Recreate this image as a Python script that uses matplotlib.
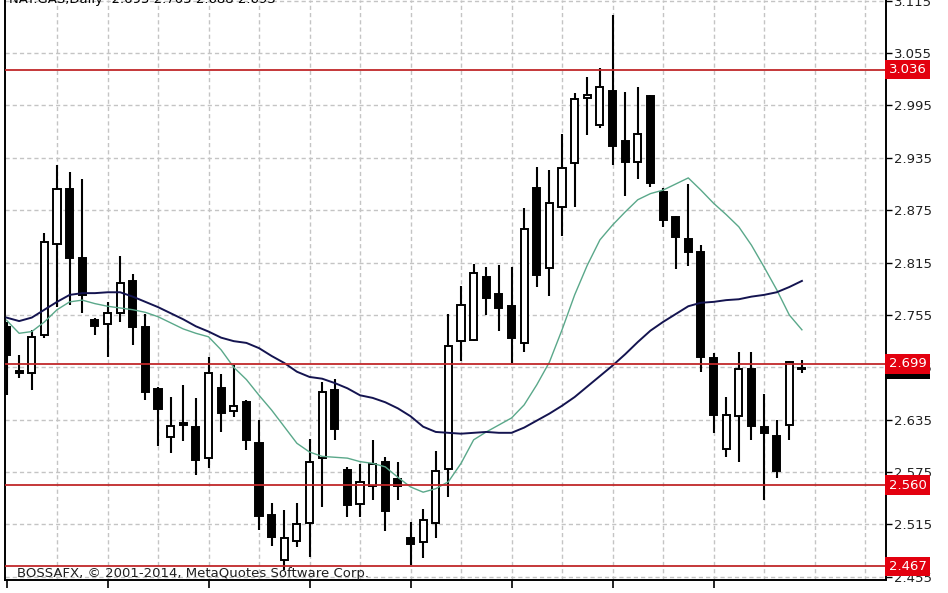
import matplotlib
matplotlib.use("Agg")
import matplotlib.pyplot as plt
import matplotlib.transforms as mtransforms
import numpy as np

# ---------------- data ----------------
opens = [2.741, 2.691, 2.689, 2.732, 2.836, 2.899, 2.820, 2.749, 2.745, 2.757,
         2.794, 2.741, 2.670, 2.615, 2.631, 2.627, 2.591, 2.671, 2.645, 2.655,
         2.608, 2.526, 2.474, 2.496, 2.517, 2.591, 2.669, 2.577, 2.539, 2.559,
         2.586, 2.567, 2.500, 2.495, 2.517, 2.579, 2.725, 2.726, 2.799, 2.779,
         2.765, 2.723, 2.900, 2.809, 2.879, 2.929, 3.004, 2.973, 3.012, 2.954,
         2.930, 3.006, 2.896, 2.867, 2.842, 2.827, 2.706, 2.602, 2.639, 2.693,
         2.627, 2.616, 2.629, 2.693]
highs = [2.747, 2.709, 2.738, 2.849, 2.927, 2.919, 2.911, 2.752, 2.770, 2.823,
         2.802, 2.756, 2.673, 2.661, 2.675, 2.660, 2.707, 2.687, 2.698, 2.658,
         2.635, 2.540, 2.532, 2.540, 2.613, 2.678, 2.682, 2.581, 2.584, 2.612,
         2.592, 2.586, 2.518, 2.533, 2.599, 2.756, 2.788, 2.813, 2.810, 2.812,
         2.810, 2.878, 2.924, 2.921, 2.962, 3.009, 3.028, 3.038, 3.099, 3.010,
         3.016, 3.007, 2.900, 2.868, 2.905, 2.835, 2.711, 2.661, 2.713, 2.713,
         2.665, 2.635, 2.702, 2.703]
lows = [2.663, 2.683, 2.669, 2.729, 2.764, 2.766, 2.757, 2.732, 2.707, 2.747,
        2.721, 2.658, 2.605, 2.597, 2.611, 2.572, 2.580, 2.621, 2.638, 2.600,
        2.509, 2.490, 2.463, 2.489, 2.478, 2.535, 2.612, 2.524, 2.523, 2.543,
        2.507, 2.543, 2.469, 2.477, 2.500, 2.547, 2.702, 2.725, 2.755, 2.737,
        2.700, 2.713, 2.787, 2.777, 2.845, 2.879, 2.961, 2.969, 2.927, 2.891,
        2.911, 2.902, 2.856, 2.808, 2.811, 2.690, 2.620, 2.592, 2.587, 2.612,
        2.543, 2.568, 2.612, 2.688]
closes = [2.709, 2.689, 2.730, 2.839, 2.899, 2.820, 2.778, 2.742, 2.757, 2.792,
          2.741, 2.667, 2.647, 2.628, 2.629, 2.589, 2.689, 2.643, 2.651, 2.612,
          2.525, 2.501, 2.500, 2.516, 2.586, 2.667, 2.624, 2.537, 2.564, 2.584,
          2.531, 2.559, 2.493, 2.520, 2.576, 2.719, 2.766, 2.803, 2.774, 2.763,
          2.729, 2.853, 2.801, 2.883, 2.923, 3.002, 3.007, 3.016, 2.949, 2.930,
          2.962, 2.906, 2.864, 2.844, 2.827, 2.707, 2.640, 2.640, 2.693, 2.628,
          2.620, 2.576, 2.701, 2.693]

ma_fast = [2.749, 2.734, 2.736, 2.747, 2.761, 2.770, 2.772, 2.768, 2.765, 2.763,
           2.761, 2.758, 2.753, 2.746, 2.739, 2.734, 2.730, 2.715, 2.695, 2.681,
           2.663, 2.646, 2.627, 2.608, 2.598, 2.593, 2.592, 2.591, 2.587, 2.585,
           2.581, 2.569, 2.558, 2.552, 2.556, 2.564, 2.585, 2.612, 2.621, 2.629,
           2.637, 2.652, 2.675, 2.701, 2.738, 2.778, 2.812, 2.841, 2.858, 2.873,
           2.887, 2.894, 2.898, 2.905, 2.912, 2.898, 2.883, 2.870, 2.856, 2.835,
           2.810, 2.784, 2.755, 2.738]
ma_slow = [2.752, 2.748, 2.752, 2.761, 2.770, 2.778, 2.780, 2.780, 2.781, 2.781,
           2.776, 2.770, 2.764, 2.757, 2.750, 2.742, 2.736, 2.729, 2.725, 2.723,
           2.717, 2.708, 2.700, 2.690, 2.684, 2.682, 2.677, 2.671, 2.663, 2.660,
           2.655, 2.648, 2.639, 2.627, 2.621, 2.620, 2.619, 2.620, 2.621, 2.620,
           2.620, 2.626, 2.634, 2.642, 2.651, 2.661, 2.673, 2.685, 2.697, 2.710,
           2.724, 2.737, 2.747, 2.756, 2.765, 2.769, 2.770, 2.772, 2.773, 2.776,
           2.778, 2.781, 2.787, 2.794]

price_ticks = [2.455, 2.515, 2.575, 2.635, 2.695, 2.755, 2.815, 2.875, 2.935, 2.995, 3.055, 3.115]
levels = [3.036, 2.699, 2.560, 2.467]
level_labels = ["3.036", "2.699", "2.560", "2.467"]
current_price = 2.693
title_text = "NAT.GAS,Daily  2.693 2.703 2.688 2.693"
footer_text = "BOSSAFX, \u00a9 2001-2014, MetaQuotes Software Corp."

# ---------------- figure ----------------
W, H = 948, 593
fig = plt.figure(figsize=(W / 100, H / 100), dpi=100)
ax_left, ax_right, ax_top, ax_bot = 5, 886, 0, 580
ax = fig.add_axes([ax_left / W, (H - ax_bot) / H, (ax_right - ax_left) / W, (ax_bot - ax_top) / H])
ax.set_facecolor("white")

n = len(opens)
x = np.arange(n)
ax.set_xlim(-0.12, 69.66)
ax.set_ylim(2.4514, 3.1158)

# grid
grid_kw = dict(color="#c4c4c4", lw=1.0, linestyle=(0, (3, 2.2)), zorder=0.5)
for gx in range(4, 70, 4):
    ax.axvline(gx, **grid_kw)
for gy in price_ticks:
    ax.axhline(gy, **grid_kw)

# candles
o = np.array(opens); c = np.array(closes); h = np.array(highs); l = np.array(lows)
ax.vlines(x, l, h, color="black", lw=1.5, zorder=3)
bottoms = np.minimum(o, c)
heights = np.maximum(np.abs(c - o), 0.0012)
fills = ["white" if cc >= oo else "black" for oo, cc in zip(o, c)]
ax.bar(x, heights, bottom=bottoms, width=0.56, color=fills, edgecolor="black",
       linewidth=1.4, zorder=4)

# moving averages
ax.plot(x, ma_fast, color="#5aa88a", lw=1.0, zorder=5)
ax.plot(x, ma_slow, color="#141450", lw=1.4, zorder=5)

# horizontal levels
for lv in levels:
    ax.axhline(lv, color="#c0282a", lw=1.3, zorder=6)

# spines / axes
for side in ["left", "right", "bottom"]:
    ax.spines[side].set_color("black")
    ax.spines[side].set_linewidth(1.4)
ax.spines["top"].set_visible(False)

ax.yaxis.tick_right()
ax.set_yticks(price_ticks)
ax.set_yticklabels([f"{t:.3f}" for t in price_ticks])
ax.tick_params(axis="y", direction="out", length=4, width=1, pad=2, labelsize=9.5,
               colors="black", labelcolor="#202020")
ax.set_xticks(list(range(0, 57, 8)))
ax.set_xticklabels([])
ax.tick_params(axis="x", direction="out", length=6, width=1.2, colors="black")

trans = mtransforms.blended_transform_factory(ax.transAxes, ax.transData)
# current price (black) label, mostly hidden
ax.text(1.003, current_price, f"{current_price:.3f}", transform=trans, ha="left", va="center",
        fontsize=9.5, color="white", clip_on=False, zorder=20,
        bbox=dict(boxstyle="square,pad=0.25", fc="black", ec="none"))
for lv, lab in zip(levels, level_labels):
    ax.text(1.003, lv, lab, transform=trans, ha="left", va="center",
            fontsize=9.5, color="white", clip_on=False, zorder=21,
            bbox=dict(boxstyle="square,pad=0.25", fc="#e3000f", ec="none"))

# texts
fig.text(9 / W, 1.0 + 1 / H, title_text, ha="left", va="center", fontsize=9.5, color="black")
ax.text(12 / (ax_right - ax_left), 2.4586, footer_text, transform=trans, ha="left",
        va="center", fontsize=9.5, color="#202020", zorder=7)

fig.savefig("out.png", dpi=100, facecolor="white")
